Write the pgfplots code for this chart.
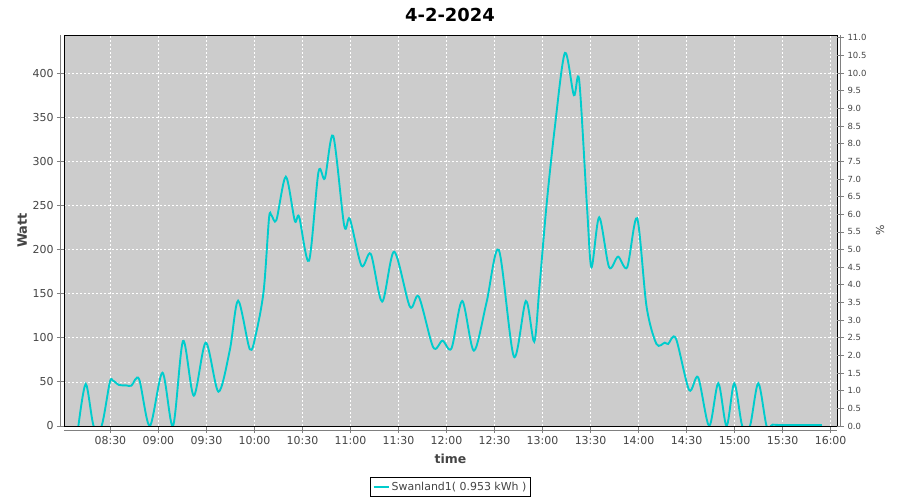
\documentclass[border=0pt]{standalone}
\usepackage{pgfplots}
\pgfplotsset{compat=1.18}
\usepackage{fontspec}
\setmainfont{DejaVu Sans}
\definecolor{linecyan}{RGB}{0,204,204}
\definecolor{plotbg}{RGB}{204,204,204}
\definecolor{ticktext}{RGB}{68,68,68}
\definecolor{axisgray}{RGB}{128,128,128}

% minutes since 08:00 vs. watt
\pgfplotstableread{
m W
10 0
14.6 47.6
19.5 0
24.5 0
29.6 49.5
31.6 51.4
35.4 46.5
40 46
43.1 45.7
47.9 53.3
54.6 0
62.5 60.4
69.1 0
75.4 96.4
82.1 34.4
89.6 94.5
97.5 38.9
104.6 86
109.8 142
117.1 87
121 105
125.8 154
129.1 235.5
130.6 239
133.7 233.5
139.6 282.6
145.2 232.7
147.9 237.3
154.1 187.4
160 288
164 280.8
169.2 329
176.1 227
179.6 234.7
186.9 181.7
192.7 195
199.8 141
207.3 197.6
217.1 135.3
222.7 146.6
231.7 89.2
237.5 96.8
243.1 88
249.8 141.7
257.1 85.4
265 140
272.7 199.5
282.1 78.6
289.6 141.7
294.8 95.6
298.1 158
302.5 250.5
307.7 339
314 423
319.6 375
322.9 392
327.9 244.9
330.6 180
335.4 236.6
341.6 180
347.2 192
352.9 180
359.1 235.5
365 135.3
371.2 93
376.4 94.5
378.5 93
383.3 99.4
391.6 40.8
397.2 55.2
404.1 0
409.8 48.4
415 0
419.8 48.4
424.8 0
429.6 0
434.8 48.4
440 0
443.8 1.5
450 1
474.6 1
}\power

\begin{document}
\begin{tikzpicture}[x=1bp,y=1bp]
\path[use as bounding box] (0,0) rectangle (900,500);
\node[font=\bfseries\fontsize{18}{20}\selectfont] at (450,485) {4-2-2024};
% offset axis lines
\draw[axisgray, line width=0.8bp] (60.5,74) -- (60.5,465);
\draw[axisgray, line width=0.8bp] (64,70) -- (837,70);
\draw[axisgray, line width=0.8bp] (840.5,74) -- (840.5,465);

\begin{axis}[
  at={(64bp,74bp)}, anchor=south west,
  scale only axis, width=773bp, height=391bp,
  xmin=1, xmax=484, ymin=0, ymax=443.3,
  axis background/.style={fill=plotbg},
  axis line style={black, line width=0.8bp},
  xtick={30,60,...,480},
  xticklabels={08:30,09:00,09:30,10:00,10:30,11:00,11:30,12:00,12:30,13:00,13:30,14:00,14:30,15:00,15:30,16:00},
  ytick={0,50,...,400},
  xtick pos=bottom, ytick pos=left,
  tick align=outside, major tick length=7bp,
  tick style={axisgray, line width=0.8bp},
  grid=major,
  major grid style={white, line width=0.6bp, dash pattern=on 2bp off 2bp},
  /pgf/number format/assume math mode=true,
  ticklabel style={font=\fontsize{11}{12}\selectfont, text=ticktext},
  xlabel={time}, ylabel={Watt},
  xlabel style={at={(0.5,-0.084)}, anchor=center, font=\bfseries\fontsize{12.5}{14}\selectfont, text=ticktext},
  ylabel style={at={(-0.054,0.5)}, anchor=center, font=\bfseries\fontsize{13}{14}\selectfont, text=ticktext},
  legend style={at={(0.5,-0.156)}, anchor=center, draw=black, line width=0.8bp,
    font=\fontsize{11}{12}\selectfont, text=ticktext, inner xsep=2bp, inner ysep=2.5bp,
    legend cell align=left},
  legend image code/.code={\draw[linecyan, line width=2bp] (0bp,0bp) -- (15bp,0bp);},
]
\addplot[linecyan, line width=1.9bp, smooth, tension=0.5] table[x=m, y=W] {\power};
\addlegendentry{Swanland1( 0.953 kWh )}
\end{axis}

\begin{axis}[
  at={(64bp,74bp)}, anchor=south west,
  scale only axis, width=773bp, height=391bp,
  xmin=1, xmax=484, ymin=0, ymax=11.0825,
  axis x line=none, axis y line*=right,
  y axis line style={draw=none},
  ytick={0,0.5,...,11},
  tick align=outside, major tick length=7bp,
  tick style={axisgray, line width=0.8bp},
  /pgf/number format/assume math mode=true,
  yticklabel style={font=\fontsize{8.5}{10}\selectfont, text=ticktext,
    /pgf/number format/.cd, fixed, fixed zerofill, precision=1},
  ylabel={\%},
  ylabel style={at={(1.0556,0.5)}, anchor=center, font=\fontsize{11}{12}\selectfont, text=ticktext},
]
\end{axis}
\end{tikzpicture}
\end{document}
